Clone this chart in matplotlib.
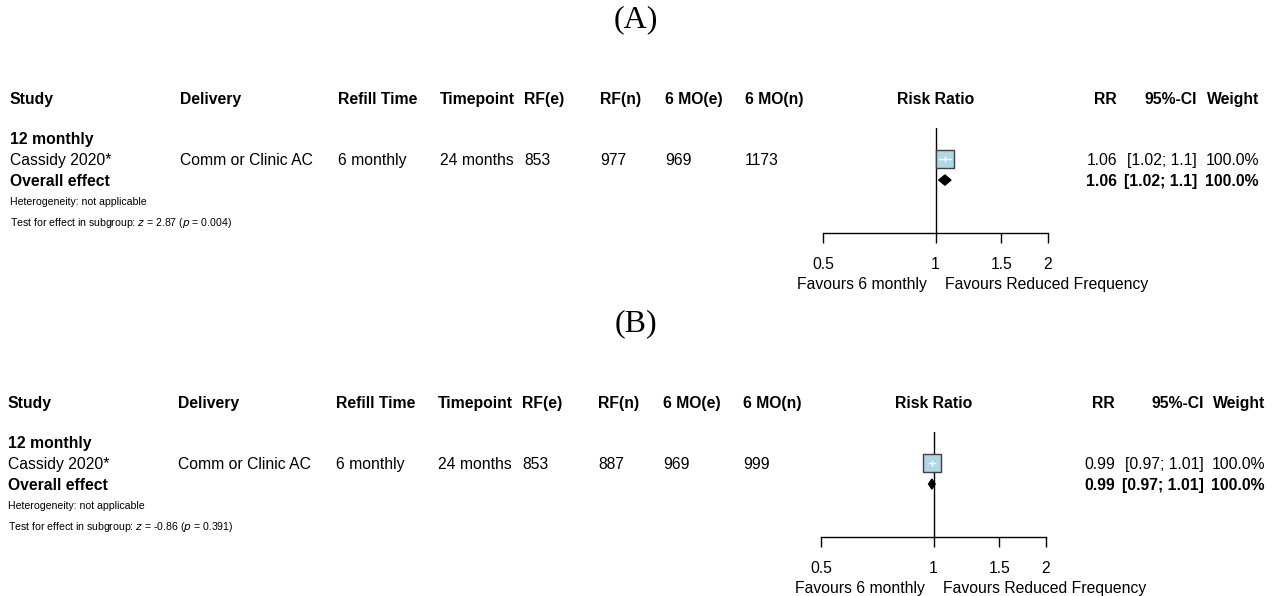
import matplotlib.pyplot as plt
from matplotlib.patches import Polygon

W, H = 1284, 596

# dados
panels = ['(A)', '(B)']
subgroup = '12 monthly'
study = 'Cassidy 2020*'
delivery = 'Comm or Clinic AC'
refill = '6 monthly'
timepoint = '24 months'
rf_e = [853, 853]
rf_n = [977, 887]
mo_e = [969, 969]
mo_n = [1173, 999]
rr = [1.06, 0.99]
ci_lo = [1.02, 0.97]
ci_hi = [1.10, 1.01]
ci_txt = ['[1.02; 1.1]', '[0.97; 1.01]']
weight = ['100.0%', '100.0%']
z_val = ['2.87', '-0.86']
p_val = ['0.004', '0.391']
headers = ['Study', 'Delivery', 'Refill Time', 'Timepoint', 'RF(e)', 'RF(n)',
           '6 MO(e)', '6 MO(n)']
ticks = [0.5, 1, 1.5, 2]
tick_labels = ['0.5', '1', '1.5', '2']

plt.rcParams['font.family'] = ['Liberation Sans', 'DejaVu Sans']
fig = plt.figure(figsize=(W / 100, H / 100), dpi=100)

FS = 11.3
FS_SMALL = 7.6


def txt(x, y, s, small=False, **kw):
    # coordenadas em pixels (origem no topo), y = centro das maiusculas
    fs = FS_SMALL if small else FS
    kw.setdefault('fontsize', fs)
    off = 0.716 * fs * 100 / 72 / 2
    fig.text(x / W, 1 - (y + off) / H, s, va='baseline', **kw)


col_x = [10, 180, 338, 440, 524, 600, 665, 745]
dy = [0, 304]
dx = [0, -2]
rr_x = [1117, 1115]
ci_x = [1197, 1204]
w_x = [1259, 1265]

for k in range(2):
    oy, ox = dy[k], dx[k]
    fig.text(636 / W, 1 - (20 + oy) / H, panels[k], ha='center', va='center',
             fontsize=23, family=['Liberation Serif', 'DejaVu Serif'])

    # cabecalho
    for h, x in zip(headers, col_x):
        txt(x + ox, 98 + oy, h, fontweight='bold')
    txt(936 + ox, 98 + oy, 'Risk Ratio', ha='center', fontweight='bold')
    txt(rr_x[k], 98 + oy, 'RR', ha='right', fontweight='bold')
    txt(ci_x[k], 98 + oy, '95%-CI', ha='right', fontweight='bold')
    txt(w_x[k], 98 + oy, 'Weight', ha='right', fontweight='bold')

    # linhas
    txt(10 + ox, 138 + oy, subgroup, fontweight='bold')
    y1 = 159 + oy
    txt(10 + ox, y1, study)
    row = [delivery, refill, timepoint, str(rf_e[k]), str(rf_n[k]),
           str(mo_e[k]), str(mo_n[k])]
    for s, x in zip(row, col_x[1:]):
        txt(x + ox, y1, s)
    txt(rr_x[k], y1, '%.2f' % rr[k], ha='right')
    txt(ci_x[k], y1, ci_txt[k], ha='right')
    txt(w_x[k], y1, weight[k], ha='right')

    y2 = 180 + oy
    txt(10 + ox, y2, 'Overall effect', fontweight='bold')
    txt(rr_x[k], y2, '%.2f' % rr[k], ha='right', fontweight='bold')
    txt(ci_x[k], y2, ci_txt[k], ha='right', fontweight='bold')
    txt(w_x[k], y2, weight[k], ha='right', fontweight='bold')

    txt(10 + ox, 201 + oy, 'Heterogeneity: not applicable', small=True)
    txt(10 + ox, 222 + oy,
        'Test for effect in subgroup: $z$ = %s ($p$ = %s)' % (z_val[k], p_val[k]),
        small=True)

    # grafico de floresta (escala log)
    top, bot = 128 + oy, 233 + oy
    ax = fig.add_axes([(823 + ox) / W, 1 - bot / H, 225 / W, (bot - top) / H])
    ax.set_xscale('log')
    ax.set_xlim(0.5, 2)
    ax.set_ylim(4.52, -0.48)
    ax.patch.set_alpha(0)
    for s in ['top', 'right', 'left']:
        ax.spines[s].set_visible(False)
    ax.spines['bottom'].set_linewidth(1)
    ax.set_yticks([])
    ax.set_xticks(ticks)
    ax.set_xticklabels(tick_labels, fontsize=FS)
    ax.minorticks_off()
    ax.tick_params(axis='x', direction='out', length=7, width=1, pad=10)
    ax.axvline(1, color='black', lw=1)

    ax.scatter([rr[k]], [1], marker='s', s=150, color='#add8e6',
               edgecolor='#404040', linewidth=1, zorder=3)
    ax.plot([ci_lo[k], ci_hi[k]], [1, 1], color='white', lw=1, zorder=4)
    ax.scatter([rr[k]], [1], marker='|', s=25, color='white', lw=1, zorder=4)

    d = Polygon([[ci_lo[k], 2], [rr[k], 1.76], [ci_hi[k], 2], [rr[k], 2.24]],
                closed=True, color='black', zorder=3)
    ax.add_patch(d)

    txt(927 + ox, 283 + oy, 'Favours 6 monthly', ha='right')
    txt(945 + ox, 283 + oy, 'Favours Reduced Frequency', ha='left')

fig.savefig('out.png', dpi=100)
